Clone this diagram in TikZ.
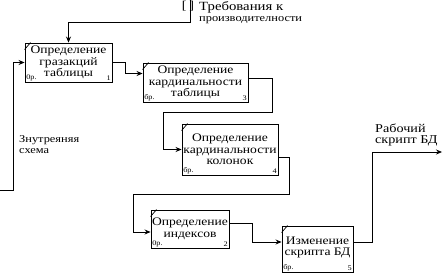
\documentclass[tikz,border=0pt]{standalone}
\usepackage{fontspec}
\setmainfont{Liberation Serif}[FakeStretch=1.18]
\usetikzlibrary{arrows.meta}
\begin{document}
\begin{tikzpicture}[x=1pt,y=-1pt,
  proc/.style={draw,line width=0.9pt,rectangle,inner sep=0pt,align=center,font=\fontsize{11.5}{11.5}\selectfont},
  arr/.style={line width=0.8pt,-{Stealth[length=6pt,width=5pt]}},
  tick/.style={line width=0.7pt},
  lbl/.style={align=left,anchor=north west,inner sep=0pt,font=\fontsize{12}{11}\selectfont},
  sml/.style={font=\fontsize{7}{7}\selectfont,inner sep=1.5pt}]
\fill[white] (0,0) rectangle (443,273);
\useasboundingbox (0,0) rectangle (443,273);

% boxes
\node[proc, minimum width=87pt, minimum height=39pt] (b1) at (68.5,62.5) {Определение\\гразакций\\таблицы};
\node[proc, minimum width=105pt, minimum height=39pt] (b2) at (195.5,82.5) {Определение\\кардинальности\\таблицы};
\node[proc, minimum width=96pt, minimum height=51pt] (b3) at (230,149.5) {Определение\\кардинальности\\колонок};
\node[proc, minimum width=78pt, minimum height=38pt] (b4) at (190,229) {Определение\\индексов};
\node[proc, minimum width=71pt, minimum height=46pt, text depth=6pt] (b5) at (317.5,249) {Изменение\\скрипта БД};

% corner marks
\foreach \b/\c/\n in {b1/0р./1, b2/бр./3, b3/бр./4, b4/0р./2, b5/бр./5}{
  \draw[tick] (\b.north west) ++(0,7) -- ++(6,-7);
  \node[sml, anchor=south west] (\b c) at (\b.south west) {\c};
  \node[sml, anchor=south east] (\b n) at (\b.south east) {\n};
}

% top control
\coordinate (ctop) at (190,0);
\node[inner sep=0pt, font=\fontsize{12}{12}\selectfont] (tun) at (188,6) {[\hspace{3pt}]};
\draw[arr] (ctop) -- (190,22) -| (b1.north);
\node[lbl, font=\fontsize{12.5}{11}\selectfont] (t1) at (199,1) {Требования к\\{\fontsize{10.5}{10.5}\selectfont производителности}};

% left input
\coordinate (cin) at (0,190);
\draw[arr] (cin) -- (13,190) |- (b1.west);
\node[lbl, font=\fontsize{10.5}{11}\selectfont] (t3) at (19,135) {Знутреяняя\\схема};

% flow
\draw[arr] (b1.east) -- (125,62.5) |- ([yshift=9pt]b2.west);
\draw[arr] ([yshift=4.5pt]b2.east) -- (272,78) -- (272,112) -- (163,112) |- (b3.west);
\draw[arr] ([yshift=-7.5pt]b3.east) -- (289,157) -- (289,194) -- (133,194) |- ([yshift=-3pt]b4.west);
\draw[arr] ([yshift=6pt]b4.east) -- (252,223) |- ([yshift=7pt]b5.west);

% output
\coordinate (cout) at (442,152);
\draw[arr] ([yshift=7pt]b5.east) -- (372,242) |- (cout);
\node[lbl] (t5) at (375,124) {Рабочий\\скрипт БД};
\end{tikzpicture}
\end{document}
